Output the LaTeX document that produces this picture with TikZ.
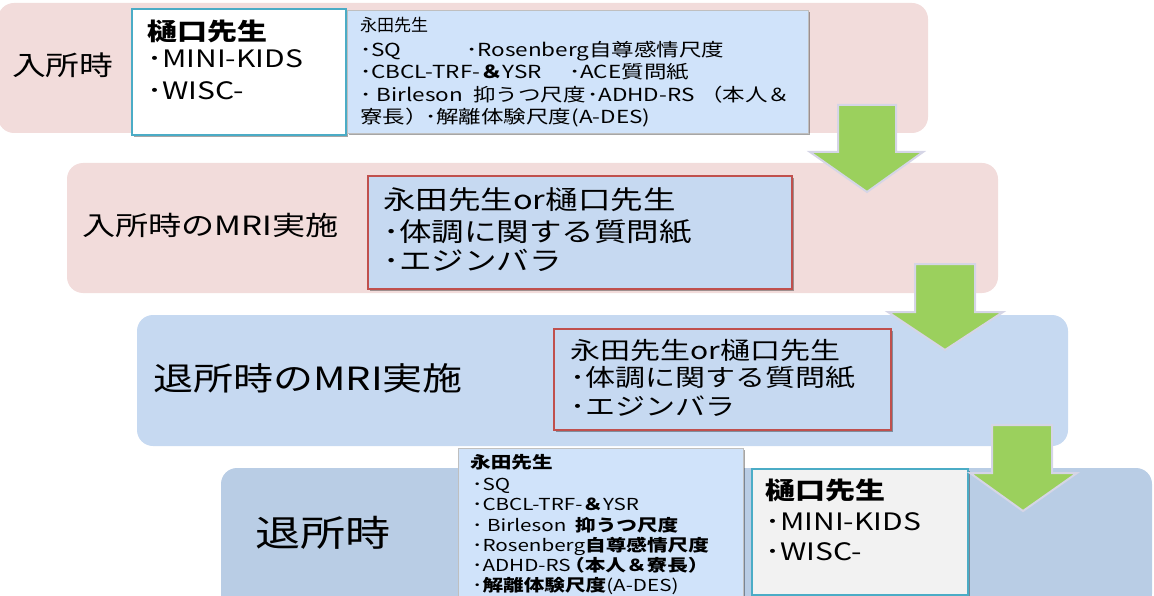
\documentclass[tikz,border=0pt]{standalone}
\usepackage{fontspec}
\setmainfont{Noto Sans CJK JP}
\newfontfamily\jp{Noto Sans CJK JP}[FakeStretch=1.25]
\newfontfamily\jpn{Noto Sans CJK JP}
\usetikzlibrary{shadows}
\newcommand\fsz[1]{\fontsize{#1}{#1}\selectfont}
\definecolor{pinkrow}{HTML}{F2DCDB}
\definecolor{bluerow}{HTML}{C6D9F1}
\definecolor{bluerowdark}{HTML}{B9CDE5}
\definecolor{lightbox}{HTML}{D0E3FA}
\definecolor{redline}{HTML}{C0504D}
\definecolor{tealline}{HTML}{4BACC6}
\definecolor{arrowgreen}{HTML}{9BD05D}
\definecolor{arrowedge}{HTML}{D5D5E6}
\definecolor{greybox}{HTML}{F2F2F2}
\tikzset{
  rowbox/.style={rounded corners=16pt, draw=none},
  tx/.style={anchor=base west, inner sep=0pt, text=black},
  shd/.style={drop shadow={shadow xshift=2pt, shadow yshift=-2pt, opacity=0.35, fill=black}},
  whitebox/.style={draw=tealline, line width=1.2pt, shd},
  listbox/.style={draw=black!25, line width=0.8pt, fill=lightbox, shd},
  redbox/.style={draw=redline, line width=2pt, fill=bluerow, shd},
  downarrow/.style={fill=arrowgreen, draw=arrowedge, line width=2pt, line join=miter},
}
\begin{document}
\begin{tikzpicture}[x=1pt, y=-1pt]
\useasboundingbox (0,0) rectangle (1154,596);
% rows
\fill[pinkrow, rowbox] (-2,3) rectangle (928,133);
\fill[pinkrow, rowbox] (67,163) rectangle (998,293);
\fill[bluerow, rowbox] (137,315) rectangle (1068,446);
\fill[bluerowdark, rowbox] (221,468) rectangle (1152,610);

% row labels
\node[tx, font={\jp\fsz{27}}] (r1) at (12,76) {入所時};
\node[tx, font={\jp\fsz{26.5}}] (r2) at (82,236) {入所時のMRI実施};
\node[tx, font={\jp\fsz{32}}] (r3) at (153,390) {退所時のMRI実施};
\node[tx, font={\jp\fsz{36}}] (r4) at (255,546) {退所時};

% row 1 boxes
\fill[white, whitebox] (132,9) rectangle (346,135);
\node[tx, font={\jp\fsz{24}\bfseries}] (h1) at (147,41) {樋口先生};
\node[tx, font={\jp\fsz{24}}] (h1a) at (147,68) {･MINI-KIDS};
\node[tx, font={\jp\fsz{24}}] (h1b) at (147,100) {･WISC-};

\path[listbox] (347,10) rectangle (808,133);
\node[tx, font={\jpn\fsz{17}}] (n1) at (360,32) {永田先生};
\begin{scope}[every node/.style={tx, font={\jp\fsz{18}}}]
\node (n1a) at (360,57) {･SQ};
\node (n1b) at (466,57) {･Rosenberg自尊感情尺度};
\node (n1c) at (360,79) {･CBCL-TRF-{\bfseries ＆}YSR};
\node (n1d) at (569,79) {･ACE質問紙};
\node (n1e) at (360,102) {･ Birleson};
\node (n1f) at (473,102) {抑うつ尺度};
\node (n1g) at (587,102) {･ADHD-RS};
\node (n1h) at (700,102) {（本人＆};
\node (n1i) at (360,124) {寮長）};
\node (n1j) at (425,124) {･解離体験尺度(A-DES)};
\end{scope}

% row 2 box
\path[redbox] (368,176) rectangle (792,289);
\begin{scope}[every node/.style={tx, font={\jp\fsz{26}}}]
\node (m1a) at (383,210) {永田先生or樋口先生};
\node (m1b) at (383,241) {･体調に関する質問紙};
\node (m1c) at (383,270) {･エジンバラ};
\end{scope}

% row 3 box
\path[redbox] (554,329) rectangle (891,430);
\begin{scope}[every node/.style={tx, font={\jp\fsz{24}}}]
\node (m2a) at (570,359) {永田先生or樋口先生};
\node (m2b) at (570,386) {･体調に関する質問紙};
\node (m2c) at (570,415) {･エジンバラ};
\end{scope}

% row 4 boxes
\path[listbox] (458,448) rectangle (743,610);
\begin{scope}[every node/.style={tx, font={\jp\fsz{16.5}}}]
\node (n2) at (470,468) {\bfseries 永田先生};
\node (n2a) at (472,490) {･SQ};
\node (n2b) at (472,510) {･CBCL-TRF-{\bfseries ＆}YSR};
\node (n2c) at (472,531) {･ Birleson};
\node (n2d) at (575,531) {\bfseries 抑うつ尺度};
\node (n2e) at (472,551) {･Rosenberg{\bfseries 自尊感情尺度}};
\node (n2f) at (472,571) {･ADHD-RS};
\node (n2g) at (564,571) {\bfseries （本人＆寮長）};
\node (n2h) at (472,591) {･{\bfseries 解離体験尺度}(A-DES)};
\end{scope}

\fill[greybox, whitebox] (752,469) rectangle (968,595);
\node[tx, font={\jp\fsz{24}\bfseries}] (h2) at (765,499) {樋口先生};
\node[tx, font={\jp\fsz{24}}] (h2a) at (765,530) {･MINI-KIDS};
\node[tx, font={\jp\fsz{24}}] (h2b) at (765,560) {･WISC-};

% arrows
\draw[downarrow] (838,105) -- (896,105) -- (896,152) -- (923,152) -- (867,192) -- (810,152) -- (838,152) -- cycle;
\draw[downarrow] (915,264) -- (975,264) -- (975,312) -- (1003,312) -- (945,350) -- (888,312) -- (915,312) -- cycle;
\draw[downarrow] (992,425) -- (1052,425) -- (1052,473) -- (1077,473) -- (1023,511) -- (970,473) -- (992,473) -- cycle;
\end{tikzpicture}
\end{document}
